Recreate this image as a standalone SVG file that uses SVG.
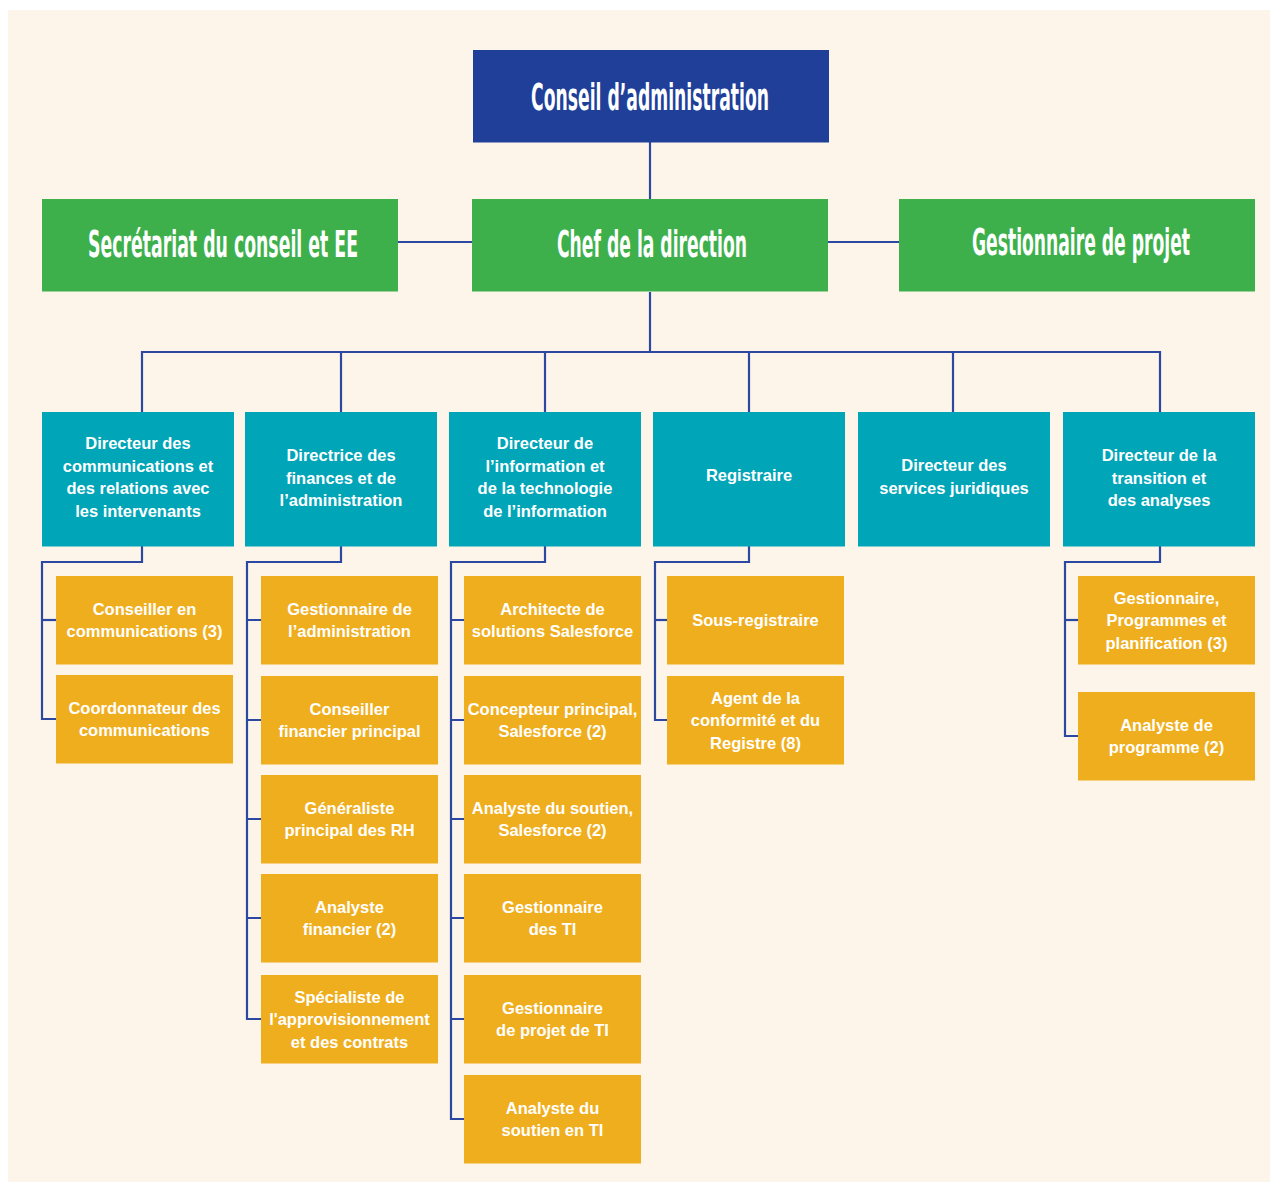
<svg xmlns="http://www.w3.org/2000/svg" width="1270" height="1182" viewBox="0 0 1270 1182">
<style>
.bg{fill:#fdf5ea}
.board{fill:#1f3f99}
.green{fill:#3db04b}
.teal{fill:#00a5b8}
.orange{fill:#efae1d}
.title{font-family:"Liberation Sans Narrow","DejaVu Sans Condensed","Liberation Sans",sans-serif;font-weight:bold;font-size:38px;fill:#ffffff;text-anchor:middle}
.lbl{font-family:"Liberation Sans",Arial,sans-serif;font-weight:bold;font-size:16.5px;fill:#ffffff;text-anchor:middle}
.conn{fill:none;stroke:#2c48a0;stroke-width:2.2}
</style>
<rect x="0" y="0" width="1270" height="1182" fill="#ffffff"/>
<rect class="bg" x="8" y="10" width="1262" height="1172"/>

<g id="connectors" class="conn">
<path d="M650 142 V199"/>
<path d="M398 242 H472"/>
<path d="M828 242 H899"/>
<path d="M650 292 V352"/>
<path d="M142 412 V352 H1160 V412"/>
<path d="M341 352 V412"/>
<path d="M545 352 V412"/>
<path d="M749 352 V412"/>
<path d="M953 352 V412"/>
<path d="M142 546 V562 H42 V719 H56"/>
<path d="M42 620 H56"/>
<path d="M341 546 V562 H247 V1019 H261"/>
<path d="M247 620 H261 M247 720 H261 M247 819 H261 M247 918 H261"/>
<path d="M545 546 V562 H451 V1119 H464"/>
<path d="M451 620 H464 M451 720 H464 M451 819 H464 M451 918 H464 M451 1019 H464"/>
<path d="M749 546 V562 H655 V720 H667"/>
<path d="M655 620 H667"/>
<path d="M1160 546 V562 H1065 V736 H1078"/>
<path d="M1065 620 H1078"/>
</g>

<g id="conseil">
<rect class="board" x="473" y="50" width="356" height="92.5"/>
<text class="title" transform="translate(650 110) scale(0.5 1)" x="0" y="0" textLength="476" lengthAdjust="spacingAndGlyphs">Conseil d’administration</text>
</g>
<g id="secretariat">
<rect class="green" x="42" y="199" width="356" height="92.5"/>
<text class="title" transform="translate(223 257) scale(0.5 1)" x="0" y="0" textLength="540" lengthAdjust="spacingAndGlyphs">Secrétariat du conseil et EE</text>
</g>
<g id="chef">
<rect class="green" x="472" y="199" width="356" height="92.5"/>
<text class="title" transform="translate(652 257) scale(0.5 1)" x="0" y="0" textLength="380" lengthAdjust="spacingAndGlyphs">Chef de la direction</text>
</g>
<g id="gestionnaire-projet">
<rect class="green" x="899" y="199" width="356" height="92.5"/>
<text class="title" transform="translate(1081 255) scale(0.5 1)" x="0" y="0" textLength="436" lengthAdjust="spacingAndGlyphs">Gestionnaire de projet</text>
</g>

<g id="dir-communications">
<rect class="teal" x="42" y="412" width="192" height="134.5"/>
<text class="lbl" x="138"><tspan x="138" y="449">Directeur des</tspan><tspan x="138" y="471.5">communications et</tspan><tspan x="138" y="494">des relations avec</tspan><tspan x="138" y="516.5">les intervenants</tspan></text>
</g>
<g id="dir-finances">
<rect class="teal" x="245" y="412" width="192" height="134.5"/>
<text class="lbl" x="341"><tspan x="341" y="461">Directrice des</tspan><tspan x="341" y="483.5">finances et de</tspan><tspan x="341" y="506">l’administration</tspan></text>
</g>
<g id="dir-ti">
<rect class="teal" x="449" y="412" width="192" height="134.5"/>
<text class="lbl" x="545"><tspan x="545" y="449">Directeur de</tspan><tspan x="545" y="471.5">l’information et</tspan><tspan x="545" y="494">de la technologie</tspan><tspan x="545" y="516.5">de l’information</tspan></text>
</g>
<g id="registraire">
<rect class="teal" x="653" y="412" width="192" height="134.5"/>
<text class="lbl" x="749" y="481">Registraire</text>
</g>
<g id="dir-juridiques">
<rect class="teal" x="858" y="412" width="192" height="134.5"/>
<text class="lbl" x="954"><tspan x="954" y="471">Directeur des</tspan><tspan x="954" y="493.5">services juridiques</tspan></text>
</g>
<g id="dir-transition">
<rect class="teal" x="1063" y="412" width="192" height="134.5"/>
<text class="lbl" x="1159"><tspan x="1159" y="461">Directeur de la</tspan><tspan x="1159" y="483.5">transition et</tspan><tspan x="1159" y="506">des analyses</tspan></text>
</g>

<g id="conseiller-communications">
<rect class="orange" x="56" y="576" width="177" height="88.5"/>
<text class="lbl" x="144.5"><tspan x="144.5" y="614.75">Conseiller en</tspan><tspan x="144.5" y="637">communications (3)</tspan></text>
</g>
<g id="coordonnateur-communications">
<rect class="orange" x="56" y="675" width="177" height="88.5"/>
<text class="lbl" x="144.5"><tspan x="144.5" y="713.75">Coordonnateur des</tspan><tspan x="144.5" y="736">communications</tspan></text>
</g>

<g id="gestionnaire-administration">
<rect class="orange" x="261" y="576" width="177" height="88.5"/>
<text class="lbl" x="349.5"><tspan x="349.5" y="614.75">Gestionnaire de</tspan><tspan x="349.5" y="637">l’administration</tspan></text>
</g>
<g id="conseiller-financier">
<rect class="orange" x="261" y="676" width="177" height="88.5"/>
<text class="lbl" x="349.5"><tspan x="349.5" y="714.75">Conseiller</tspan><tspan x="349.5" y="737">financier principal</tspan></text>
</g>
<g id="generaliste-rh">
<rect class="orange" x="261" y="775" width="177" height="88.5"/>
<text class="lbl" x="349.5"><tspan x="349.5" y="813.75">Généraliste</tspan><tspan x="349.5" y="836">principal des RH</tspan></text>
</g>
<g id="analyste-financier">
<rect class="orange" x="261" y="874" width="177" height="88.5"/>
<text class="lbl" x="349.5"><tspan x="349.5" y="912.75">Analyste</tspan><tspan x="349.5" y="935">financier (2)</tspan></text>
</g>
<g id="specialiste-approvisionnement">
<rect class="orange" x="261" y="975" width="177" height="88.5"/>
<text class="lbl" x="349.5"><tspan x="349.5" y="1002.5">Spécialiste de</tspan><tspan x="349.5" y="1025">l'approvisionnement</tspan><tspan x="349.5" y="1047.5">et des contrats</tspan></text>
</g>

<g id="architecte-salesforce">
<rect class="orange" x="464" y="576" width="177" height="88.5"/>
<text class="lbl" x="552.5"><tspan x="552.5" y="614.75">Architecte de</tspan><tspan x="552.5" y="637">solutions Salesforce</tspan></text>
</g>
<g id="concepteur-salesforce">
<rect class="orange" x="464" y="676" width="177" height="88.5"/>
<text class="lbl" x="552.5"><tspan x="552.5" y="714.75">Concepteur principal,</tspan><tspan x="552.5" y="737">Salesforce (2)</tspan></text>
</g>
<g id="analyste-salesforce">
<rect class="orange" x="464" y="775" width="177" height="88.5"/>
<text class="lbl" x="552.5"><tspan x="552.5" y="813.75">Analyste du soutien,</tspan><tspan x="552.5" y="836">Salesforce (2)</tspan></text>
</g>
<g id="gestionnaire-ti">
<rect class="orange" x="464" y="874" width="177" height="88.5"/>
<text class="lbl" x="552.5"><tspan x="552.5" y="912.75">Gestionnaire</tspan><tspan x="552.5" y="935">des TI</tspan></text>
</g>
<g id="gestionnaire-projet-ti">
<rect class="orange" x="464" y="975" width="177" height="88.5"/>
<text class="lbl" x="552.5"><tspan x="552.5" y="1013.75">Gestionnaire</tspan><tspan x="552.5" y="1036">de projet de TI</tspan></text>
</g>
<g id="analyste-soutien-ti">
<rect class="orange" x="464" y="1075" width="177" height="88.5"/>
<text class="lbl" x="552.5"><tspan x="552.5" y="1113.75">Analyste du</tspan><tspan x="552.5" y="1136">soutien en TI</tspan></text>
</g>

<g id="sous-registraire">
<rect class="orange" x="667" y="576" width="177" height="88.5"/>
<text class="lbl" x="755.5" y="625.5">Sous-registraire</text>
</g>
<g id="agent-conformite">
<rect class="orange" x="667" y="676" width="177" height="88.5"/>
<text class="lbl" x="755.5"><tspan x="755.5" y="703.5">Agent de la</tspan><tspan x="755.5" y="726">conformité et du</tspan><tspan x="755.5" y="748.5">Registre (8)</tspan></text>
</g>

<g id="gestionnaire-programmes">
<rect class="orange" x="1078" y="576" width="177" height="88.5"/>
<text class="lbl" x="1166.5"><tspan x="1166.5" y="603.5">Gestionnaire,</tspan><tspan x="1166.5" y="626">Programmes et</tspan><tspan x="1166.5" y="648.5">planification (3)</tspan></text>
</g>
<g id="analyste-programme">
<rect class="orange" x="1078" y="692" width="177" height="88.5"/>
<text class="lbl" x="1166.5"><tspan x="1166.5" y="730.75">Analyste de</tspan><tspan x="1166.5" y="753">programme (2)</tspan></text>
</g>
</svg>
